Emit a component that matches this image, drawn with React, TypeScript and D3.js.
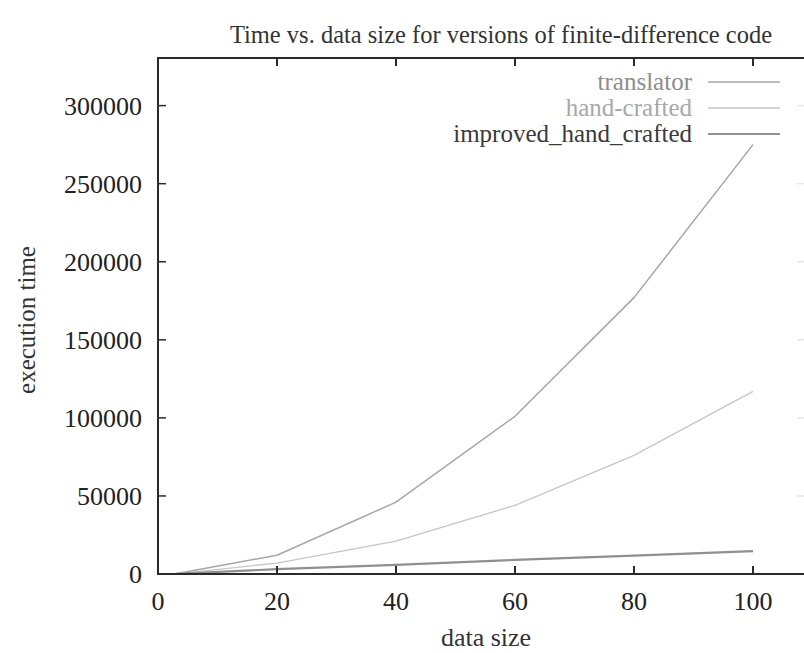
import React from "react";
import * as d3 from "d3";

const sizes = [3, 20, 40, 60, 80, 100];
const translator = [200, 12000, 46000, 101000, 177000, 275000];
const handCrafted = [100, 7000, 21000, 44000, 76000, 117000];
const improved = [80, 3100, 5800, 9000, 11800, 14700];

const xTicks = [0, 20, 40, 60, 80, 100];
const yTicks = [0, 50000, 100000, 150000, 200000, 250000, 300000];

const seriesNames = ["translator", "hand-crafted", "improved_hand_crafted"];
const seriesValues = [translator, handCrafted, improved];
const lineColors = ["#a6a6a6", "#c6c6c6", "#8f8f8f"];
const textColors = ["#8c8c8c", "#a8a8a8", "#3a3a3a"];
const lineWidths = [1.5, 1.3, 2.2];

const title = "Time vs. data size for versions of finite-difference code";
const xLabel = "data size";
const yLabel = "execution time";

export default function App() {
  const W = 804, H = 653;
  const x = d3.scaleLinear().domain([0, 100]).range([158, 753]);
  const y = d3.scaleLinear().domain([0, 330500]).range([574, 58]);
  const left = x(0), top = y(330500), bottom = y(0);
  const line = d3.line<[number, number]>().x(d => x(d[0])).y(d => y(d[1]));
  const font = "'Liberation Serif', 'DejaVu Serif', serif";
  const tickLen = 8;
  const axisColor = "#2a2a2a";
  const ts = { fontFamily: font } as React.CSSProperties;

  return (
    <svg width={W} height={H} style={{ position: "absolute", left: 0, top: 0, background: "#fff" }}>
      <rect x={0} y={0} width={W} height={H} fill="#fff" />
      <text style={ts} x={501} y={43} textAnchor="middle" fontSize={24.5} fill="#333">{title}</text>

      {seriesValues.map((vals, i) => (
        <path key={i} d={line(sizes.map((s, j) => [s, vals[j]]) as [number, number][]) || ""}
          fill="none" stroke={lineColors[i]} strokeWidth={lineWidths[i]} strokeLinejoin="round" />
      ))}

      {xTicks.map(t => (
        <g key={"x" + t}>
          <line x1={x(t)} x2={x(t)} y1={bottom} y2={bottom - tickLen} stroke={axisColor} strokeWidth={2} />
          <line x1={x(t)} x2={x(t)} y1={top} y2={top + tickLen} stroke={axisColor} strokeWidth={2} />
          <text style={ts} x={x(t)} y={610} textAnchor="middle" fontSize={26} fill="#222">{t}</text>
        </g>
      ))}
      {yTicks.map(t => (
        <g key={"y" + t}>
          <line x1={left} x2={left + tickLen} y1={y(t)} y2={y(t)} stroke={axisColor} strokeWidth={1.5} />
          <line x1={797} x2={804} y1={y(t)} y2={y(t)} stroke="#e6e6e6" strokeWidth={1.5} />
          <text style={ts} x={142} y={y(t)} dy="0.35em" textAnchor="end" fontSize={26} fill="#222">{t}</text>
        </g>
      ))}

      {/* frame: left, top, bottom (right edge lies beyond the picture) */}
      <line x1={left} x2={left} y1={top} y2={bottom} stroke={axisColor} strokeWidth={2} />
      <line x1={left - 1} x2={W} y1={top} y2={top} stroke={axisColor} strokeWidth={2} />
      <line x1={left - 1} x2={W} y1={bottom} y2={bottom} stroke={axisColor} strokeWidth={2} />

      {seriesNames.map((n, i) => (
        <g key={n}>
          <text style={ts} x={692} y={82 + i * 26} dy="0.33em" textAnchor="end" fontSize={25} fill={textColors[i]}>{n}</text>
          <line x1={708} x2={780} y1={82 + i * 26} y2={82 + i * 26} stroke={lineColors[i]} strokeWidth={lineWidths[i]} />
        </g>
      ))}

      <text style={ts} x={486} y={646} textAnchor="middle" fontSize={26} fill="#333">{xLabel}</text>
      <text style={ts} transform={`translate(35, 320) rotate(-90)`} textAnchor="middle" fontSize={25} fill="#333">{yLabel}</text>
    </svg>
  );
}
